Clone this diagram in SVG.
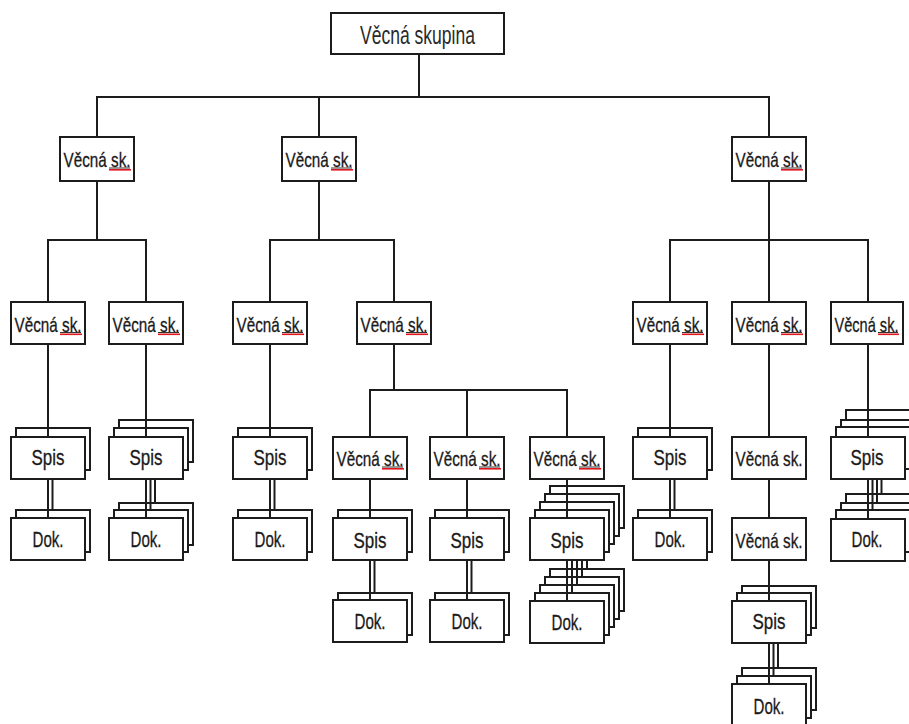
<svg xmlns="http://www.w3.org/2000/svg" width="909" height="724" viewBox="0 0 909 724">
<style>
rect{fill:#fff;stroke:#1c1c1c;stroke-width:2}
.c line{stroke:#1c1c1c;stroke-width:2}
text{font-family:"Liberation Sans Narrow","Liberation Sans",Arial,sans-serif;fill:#1a1a1a;text-anchor:middle}
.v{font-size:21px;stroke:#1a1a1a;stroke-width:0.3}
.s{font-size:22px;stroke:#1a1a1a;stroke-width:0.3}
.t{font-size:25px;fill:#2a2a2a}
.ul{stroke:#333;stroke-width:1}
.red{stroke:#e0161c;stroke-width:1.6}
</style>
<rect x="0" y="0" width="909" height="724" style="stroke:none"/>
<g id="root"><rect x="331" y="13" width="173" height="41"/><text class="t" x="417.5" y="44" textLength="115" lengthAdjust="spacingAndGlyphs">Věcná skupina</text></g>

<g id="l1a"><rect x="60" y="137" width="74" height="44"/><text class="v" x="97" y="167" textLength="67" lengthAdjust="spacingAndGlyphs">Věcná sk.</text><line class="ul" x1="109" y1="168" x2="130" y2="168"/><line class="red" x1="109" y1="169.8" x2="131" y2="169.8"/></g>
<g id="l1b"><rect x="282" y="137" width="74" height="44"/><text class="v" x="319" y="167" textLength="67" lengthAdjust="spacingAndGlyphs">Věcná sk.</text><line class="ul" x1="331" y1="168" x2="352" y2="168"/><line class="red" x1="331" y1="169.8" x2="353" y2="169.8"/></g>
<g id="l1c"><rect x="732" y="137" width="74" height="44"/><text class="v" x="769" y="167" textLength="67" lengthAdjust="spacingAndGlyphs">Věcná sk.</text><line class="ul" x1="781" y1="168" x2="802" y2="168"/><line class="red" x1="781" y1="169.8" x2="803" y2="169.8"/></g>

<g id="l2a"><rect x="11" y="302" width="74" height="42"/><text class="v" x="48" y="331.5" textLength="67" lengthAdjust="spacingAndGlyphs">Věcná sk.</text><line class="ul" x1="60" y1="332.5" x2="81" y2="332.5"/><line class="red" x1="60" y1="334.3" x2="82" y2="334.3"/></g>
<g id="l2b"><rect x="109" y="302" width="74" height="42"/><text class="v" x="146" y="331.5" textLength="67" lengthAdjust="spacingAndGlyphs">Věcná sk.</text><line class="ul" x1="158" y1="332.5" x2="179" y2="332.5"/><line class="red" x1="158" y1="334.3" x2="180" y2="334.3"/></g>
<g id="l2c"><rect x="233" y="302" width="74" height="42"/><text class="v" x="270" y="331.5" textLength="67" lengthAdjust="spacingAndGlyphs">Věcná sk.</text><line class="ul" x1="282" y1="332.5" x2="303" y2="332.5"/><line class="red" x1="282" y1="334.3" x2="304" y2="334.3"/></g>
<g id="l2d"><rect x="357" y="302" width="74" height="42"/><text class="v" x="394" y="331.5" textLength="67" lengthAdjust="spacingAndGlyphs">Věcná sk.</text><line class="ul" x1="406" y1="332.5" x2="427" y2="332.5"/><line class="red" x1="406" y1="334.3" x2="428" y2="334.3"/></g>
<g id="l2e"><rect x="633" y="302" width="74" height="42"/><text class="v" x="670" y="331.5" textLength="67" lengthAdjust="spacingAndGlyphs">Věcná sk.</text><line class="ul" x1="682" y1="332.5" x2="703" y2="332.5"/><line class="red" x1="682" y1="334.3" x2="704" y2="334.3"/></g>
<g id="l2f"><rect x="732" y="302" width="74" height="42"/><text class="v" x="769" y="331.5" textLength="67" lengthAdjust="spacingAndGlyphs">Věcná sk.</text><line class="ul" x1="781" y1="332.5" x2="802" y2="332.5"/><line class="red" x1="781" y1="334.3" x2="803" y2="334.3"/></g>
<g id="l2g"><rect x="831" y="302" width="72" height="42"/><text class="v" x="866.5" y="331.5" textLength="64" lengthAdjust="spacingAndGlyphs">Věcná sk.</text><line class="ul" x1="878" y1="332.5" x2="898" y2="332.5"/><line class="red" x1="878" y1="334.3" x2="899" y2="334.3"/></g>

<g id="l3a"><rect x="333" y="437" width="74" height="42"/><text class="v" x="370" y="466" textLength="67" lengthAdjust="spacingAndGlyphs">Věcná sk.</text><line class="ul" x1="382" y1="467" x2="403" y2="467"/><line class="red" x1="382" y1="468.8" x2="404" y2="468.8"/></g>
<g id="l3b"><rect x="430" y="437" width="74" height="42"/><text class="v" x="467" y="466" textLength="67" lengthAdjust="spacingAndGlyphs">Věcná sk.</text><line class="ul" x1="479" y1="467" x2="500" y2="467"/><line class="red" x1="479" y1="468.8" x2="501" y2="468.8"/></g>
<g id="l3c"><rect x="530" y="437" width="74" height="42"/><text class="v" x="567" y="466" textLength="67" lengthAdjust="spacingAndGlyphs">Věcná sk.</text><line class="ul" x1="579" y1="467" x2="600" y2="467"/><line class="red" x1="579" y1="468.8" x2="601" y2="468.8"/></g>
<g id="l3d"><rect x="732" y="437" width="74" height="42"/><text class="v" x="769" y="466" textLength="67" lengthAdjust="spacingAndGlyphs">Věcná sk.</text></g>
<g id="l4d"><rect x="732" y="518" width="74" height="42"/><text class="v" x="769" y="548" textLength="67" lengthAdjust="spacingAndGlyphs">Věcná sk.</text></g>

<g id="spis48"><rect x="16" y="428" width="74" height="42"/><rect x="11" y="437" width="74" height="42"/><text class="s" x="48" y="465" textLength="33" lengthAdjust="spacingAndGlyphs">Spis</text></g>
<g id="dok48"><rect x="16" y="510" width="74" height="42"/><rect x="11" y="518" width="74" height="42"/><text class="s" x="48" y="547" textLength="31" lengthAdjust="spacingAndGlyphs">Dok.</text></g>
<g id="spis146"><rect x="119" y="420" width="74" height="42"/><rect x="114" y="428" width="74" height="42"/><rect x="109" y="437" width="74" height="42"/><text class="s" x="146" y="465" textLength="33" lengthAdjust="spacingAndGlyphs">Spis</text></g>
<g id="dok146"><rect x="119" y="503" width="74" height="42"/><rect x="114" y="510" width="74" height="42"/><rect x="109" y="518" width="74" height="42"/><text class="s" x="146" y="547" textLength="31" lengthAdjust="spacingAndGlyphs">Dok.</text></g>
<g id="spis270"><rect x="238" y="428" width="74" height="42"/><rect x="233" y="437" width="74" height="42"/><text class="s" x="270" y="465" textLength="33" lengthAdjust="spacingAndGlyphs">Spis</text></g>
<g id="dok270"><rect x="238" y="510" width="74" height="42"/><rect x="233" y="518" width="74" height="42"/><text class="s" x="270" y="547" textLength="31" lengthAdjust="spacingAndGlyphs">Dok.</text></g>
<g id="spis370"><rect x="338" y="510" width="74" height="42"/><rect x="333" y="518" width="74" height="42"/><text class="s" x="370" y="548" textLength="33" lengthAdjust="spacingAndGlyphs">Spis</text></g>
<g id="dok370"><rect x="338" y="593" width="74" height="42"/><rect x="333" y="600" width="74" height="42"/><text class="s" x="370" y="629" textLength="31" lengthAdjust="spacingAndGlyphs">Dok.</text></g>
<g id="spis467"><rect x="435" y="510" width="74" height="42"/><rect x="430" y="518" width="74" height="42"/><text class="s" x="467" y="548" textLength="33" lengthAdjust="spacingAndGlyphs">Spis</text></g>
<g id="dok467"><rect x="435" y="593" width="74" height="42"/><rect x="430" y="600" width="74" height="42"/><text class="s" x="467" y="629" textLength="31" lengthAdjust="spacingAndGlyphs">Dok.</text></g>
<g id="spis567"><rect x="550" y="486" width="74" height="42"/><rect x="545" y="494" width="74" height="42"/><rect x="540" y="502" width="74" height="42"/><rect x="535" y="510" width="74" height="42"/><rect x="530" y="518" width="74" height="42"/><text class="s" x="567" y="548" textLength="33" lengthAdjust="spacingAndGlyphs">Spis</text></g>
<g id="dok567"><rect x="550" y="569" width="74" height="42"/><rect x="545" y="577" width="74" height="42"/><rect x="540" y="585" width="74" height="42"/><rect x="535" y="593" width="74" height="42"/><rect x="530" y="601" width="74" height="42"/><text class="s" x="567" y="630" textLength="31" lengthAdjust="spacingAndGlyphs">Dok.</text></g>
<g id="spis670"><rect x="638" y="428" width="74" height="42"/><rect x="633" y="437" width="74" height="42"/><text class="s" x="670" y="465" textLength="33" lengthAdjust="spacingAndGlyphs">Spis</text></g>
<g id="dok670"><rect x="638" y="510" width="74" height="42"/><rect x="633" y="518" width="74" height="42"/><text class="s" x="670" y="547" textLength="31" lengthAdjust="spacingAndGlyphs">Dok.</text></g>
<g id="spis769"><rect x="742" y="586" width="74" height="42"/><rect x="737" y="593" width="74" height="42"/><rect x="732" y="601" width="74" height="42"/><text class="s" x="769" y="629" textLength="33" lengthAdjust="spacingAndGlyphs">Spis</text></g>
<g id="dok769"><rect x="742" y="668" width="74" height="42"/><rect x="737" y="676" width="74" height="42"/><rect x="732" y="684" width="74" height="42"/><text class="s" x="769" y="714" textLength="31" lengthAdjust="spacingAndGlyphs">Dok.</text></g>
<g id="spis868"><rect x="846" y="410" width="74" height="42"/><rect x="841" y="420" width="74" height="42"/><rect x="836" y="427" width="74" height="42"/><rect x="831" y="437" width="74" height="42"/><text class="s" x="867" y="465" textLength="33" lengthAdjust="spacingAndGlyphs">Spis</text></g>
<g id="dok868"><rect x="846" y="494" width="74" height="42"/><rect x="841" y="503" width="74" height="42"/><rect x="836" y="510" width="74" height="42"/><rect x="831" y="519" width="74" height="42"/><text class="s" x="867" y="547" textLength="31" lengthAdjust="spacingAndGlyphs">Dok.</text></g>

<g id="connectors" class="c">
<line x1="419" y1="54" x2="419" y2="97"/>
<line x1="96" y1="97" x2="770" y2="97"/>
<line x1="97" y1="97" x2="97" y2="137"/>
<line x1="319" y1="97" x2="319" y2="137"/>
<line x1="769" y1="97" x2="769" y2="137"/>
<line x1="97" y1="181" x2="97" y2="240"/>
<line x1="47" y1="240" x2="147" y2="240"/>
<line x1="48" y1="240" x2="48" y2="302"/>
<line x1="146" y1="240" x2="146" y2="302"/>
<line x1="319" y1="181" x2="319" y2="240"/>
<line x1="269" y1="240" x2="395" y2="240"/>
<line x1="270" y1="240" x2="270" y2="302"/>
<line x1="394" y1="240" x2="394" y2="302"/>
<line x1="769" y1="181" x2="769" y2="240"/>
<line x1="669" y1="240" x2="869" y2="240"/>
<line x1="670" y1="240" x2="670" y2="302"/>
<line x1="769" y1="240" x2="769" y2="302"/>
<line x1="868" y1="240" x2="868" y2="302"/>
<line x1="48" y1="344" x2="48" y2="437"/>
<line x1="146" y1="344" x2="146" y2="437"/>
<line x1="270" y1="344" x2="270" y2="437"/>
<line x1="670" y1="344" x2="670" y2="437"/>
<line x1="769" y1="344" x2="769" y2="437"/>
<line x1="868" y1="344" x2="868" y2="437"/>
<line x1="394" y1="344" x2="394" y2="390"/>
<line x1="369" y1="390" x2="568" y2="390"/>
<line x1="370" y1="390" x2="370" y2="437"/>
<line x1="467" y1="390" x2="467" y2="437"/>
<line x1="567" y1="390" x2="567" y2="437"/>
<line x1="370" y1="479" x2="370" y2="518"/>
<line x1="467" y1="479" x2="467" y2="518"/>
<line x1="567" y1="479" x2="567" y2="518"/>
<line x1="769" y1="479" x2="769" y2="518"/>
<line x1="769" y1="560" x2="769" y2="601"/>
<line x1="48" y1="479" x2="48" y2="518"/>
<line x1="52.5" y1="479" x2="52.5" y2="510"/>
<line x1="146" y1="479" x2="146" y2="518"/>
<line x1="150.5" y1="479" x2="150.5" y2="510"/>
<line x1="155" y1="479" x2="155" y2="503"/>
<line x1="270" y1="479" x2="270" y2="518"/>
<line x1="274.5" y1="479" x2="274.5" y2="510"/>
<line x1="670" y1="479" x2="670" y2="518"/>
<line x1="674.5" y1="479" x2="674.5" y2="510"/>
<line x1="868" y1="479" x2="868" y2="519"/>
<line x1="872.5" y1="479" x2="872.5" y2="510"/>
<line x1="877" y1="479" x2="877" y2="503"/>
<line x1="881.5" y1="479" x2="881.5" y2="494"/>
<line x1="370" y1="560" x2="370" y2="600"/>
<line x1="374.5" y1="560" x2="374.5" y2="593"/>
<line x1="467" y1="560" x2="467" y2="600"/>
<line x1="471.5" y1="560" x2="471.5" y2="593"/>
<line x1="567" y1="560" x2="567" y2="601"/>
<line x1="572" y1="560" x2="572" y2="593"/>
<line x1="577" y1="560" x2="577" y2="585"/>
<line x1="582" y1="560" x2="582" y2="577"/>
<line x1="587" y1="560" x2="587" y2="569"/>
<line x1="769" y1="643" x2="769" y2="684"/>
<line x1="773.5" y1="643" x2="773.5" y2="676"/>
<line x1="778" y1="643" x2="778" y2="668"/>
</g>
</svg>
